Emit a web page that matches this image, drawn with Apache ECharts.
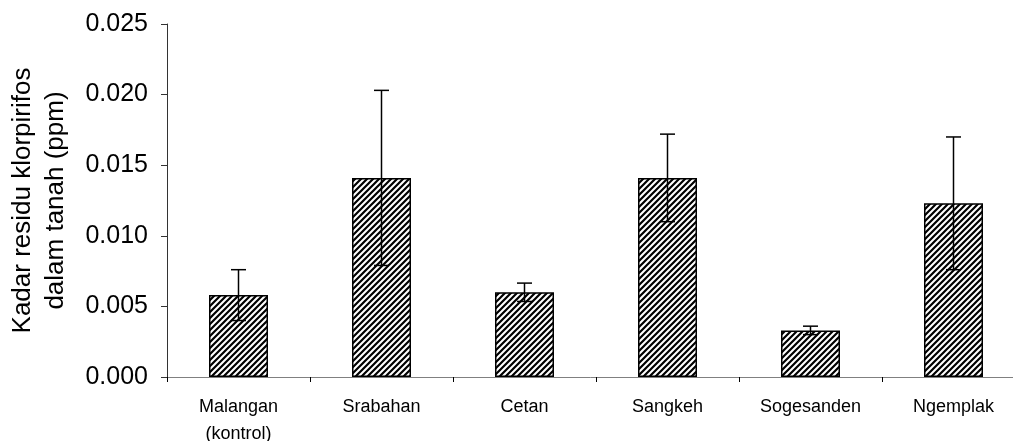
<!DOCTYPE html>
<html>
<head>
<meta charset="utf-8">
<title>Kadar residu klorpirifos</title>
<script src="https://cdn.jsdelivr.net/npm/echarts@6/dist/echarts.min.js"></script>
<style>
  html, body { margin: 0; padding: 0; background: #fff; }
  #main { width: 1013px; height: 441px; }
</style>
</head>
<body>
<div id="main"></div>
<script>
// data
var categories = ['Malangan\n(kontrol)', 'Srabahan', 'Cetan', 'Sangkeh', 'Sogesanden', 'Ngemplak'];
var means = [0.0058, 0.0141, 0.0060, 0.0141, 0.0033, 0.0123];
var errors = [0.0018, 0.0062, 0.00065, 0.0031, 0.0003, 0.0047];
var yTicks = [0, 0.005, 0.010, 0.015, 0.020, 0.025];

// hatch pattern for the bars
function hatch() {
  var c = document.createElement('canvas');
  c.width = 6; c.height = 6;
  var g = c.getContext('2d');
  g.fillStyle = '#fff';
  g.fillRect(0, 0, 6, 6);
  g.strokeStyle = '#000';
  g.lineWidth = 2.2;
  g.beginPath();
  g.moveTo(-1, 7); g.lineTo(7, -1);
  g.moveTo(-4, 4); g.lineTo(4, -4);
  g.moveTo(2, 10); g.lineTo(10, 2);
  g.stroke();
  return c;
}

var errData = [];
for (var i = 0; i < means.length; i++) {
  errData.push([i, means[i] - errors[i], means[i] + errors[i]]);
}

var font = 'Liberation Sans, Arial, sans-serif';
var chart = echarts.init(document.getElementById('main'));
chart.setOption({
  animation: false,
  backgroundColor: '#fff',
  grid: { left: 167, top: 24, height: 353, width: 858, outerBoundsMode: 'none', containLabel: false },
  xAxis: {
    type: 'category',
    data: categories,
    axisLine: { lineStyle: { color: '#808080', width: 1 } },
    axisTick: { show: true, length: 5, lineStyle: { color: '#000' } },
    axisLabel: {
      color: '#000', fontSize: 18, fontFamily: font,
      margin: 17, lineHeight: 27, interval: 0
    }
  },
  yAxis: {
    type: 'value',
    min: yTicks[0],
    max: yTicks[yTicks.length - 1],
    interval: 0.005,
    name: 'Kadar residu klorpirifos\ndalam tanah (ppm)',
    nameLocation: 'middle',
    nameGap: 95,
    nameTextStyle: { color: '#000', fontSize: 26, fontFamily: font, lineHeight: 33 },
    splitLine: { show: false },
    axisLine: { show: true, lineStyle: { color: '#333', width: 1 } },
    axisTick: { show: true, length: 6, lineStyle: { color: '#333' } },
    axisLabel: {
      color: '#000', fontSize: 25, fontFamily: font, margin: 19,
      formatter: function (v) { return v.toFixed(3); }
    }
  },
  series: [
    {
      type: 'bar',
      data: means,
      barWidth: 59,
      itemStyle: {
        color: { image: hatch(), repeat: 'repeat' },
        borderColor: '#000',
        borderWidth: 1.5
      }
    },
    {
      type: 'custom',
      data: errData,
      z: 10,
      renderItem: function (params, api) {
        var x = api.value(0);
        var lo = api.coord([x, api.value(1)]);
        var hi = api.coord([x, api.value(2)]);
        var w = 7.5;
        var st = { stroke: '#000', lineWidth: 1.5 };
        return {
          type: 'group',
          children: [
            { type: 'line', shape: { x1: hi[0], y1: hi[1], x2: lo[0], y2: lo[1] }, style: st },
            { type: 'line', shape: { x1: hi[0] - w, y1: hi[1], x2: hi[0] + w, y2: hi[1] }, style: st },
            { type: 'line', shape: { x1: lo[0] - w, y1: lo[1], x2: lo[0] + w, y2: lo[1] }, style: st }
          ]
        };
      }
    }
  ]
});
</script>
</body>
</html>
